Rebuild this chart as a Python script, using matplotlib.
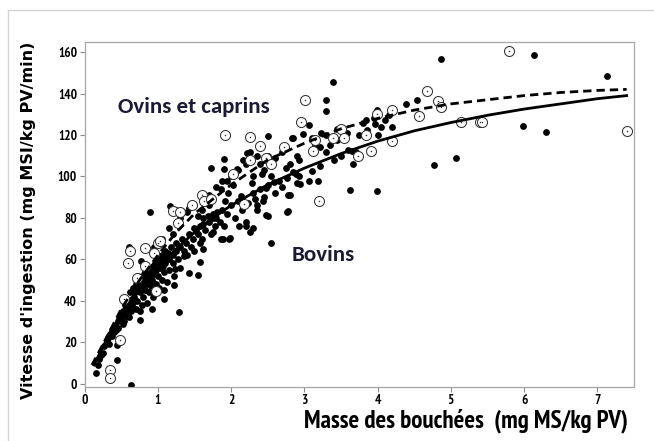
import matplotlib
matplotlib.use("Agg")
import matplotlib.pyplot as plt
from matplotlib.lines import Line2D

# --- data ---
# Bovins (filled dots)
bovins_x = [4.87, 6.13, 7.13, 3.39, 3.3, 3.3, 4.54, 4.39, 3.99, 4.16, 4.19, 5.98, 6.3, 4.77, 5.07,
            3.62, 3.99, 3.67, 3.6, 3.65, 3.7, 3.58, 3.85, 3.84, 3.96, 3.44, 3.35, 3.21, 3.07, 2.85,
            2.98, 3.1, 3.23, 3.14, 2.92, 3.1, 3.22, 2.92, 2.94, 3.07, 3.19, 2.8, 2.51, 2.83, 2.9,
            2.77, 2.77, 2.51, 2.55, 1.98, 1.89, 2.16, 2.21, 2.08, 1.73, 1.9, 1.9, 1.87, 2.26, 2.24,
            2.3, 2.42, 2.29, 2.33, 2.43, 2.48, 2.36, 2.23, 2.13, 2.03, 1.94, 2.59, 2.48, 2.76, 2.89,
            2.76, 1.86, 1.92, 1.96, 1.69, 1.81, 1.75, 1.86, 1.97, 2.11, 2.26, 2.2, 2.3, 0.89, 1.17,
            1.43, 1.62, 1.52, 1.57, 1.61, 1.57, 1.55, 1.42, 1.35, 1.23, 1.22, 1.09, 1.09, 0.92, 0.76,
            1.29, 0.44, 0.44, 0.15, 0.63, 0.61, 0.77,
            1.25, 1.3, 1.4, 1.5, 1.55, 1.65, 1.7, 1.8, 2.0, 2.1, 2.2, 2.35, 2.4, 2.5, 2.6, 2.7, 2.45,
            3.3, 3.45, 3.55, 3.75, 3.8, 3.95, 4.05, 4.1, 4.0, 3.5, 3.4, 3.3,
            0.18, 0.2, 0.22, 0.25, 0.27, 0.3, 0.32, 0.33, 0.35, 0.37, 0.4, 0.42, 0.45, 0.46, 0.48,
            0.5, 0.52, 0.53, 0.55, 0.56, 0.58, 0.6, 0.6, 0.62, 0.63, 0.65, 0.66, 0.68, 0.7, 0.7,
            0.72, 0.73, 0.75, 0.75, 0.77, 0.78, 0.8, 0.8, 0.82, 0.83, 0.85, 0.85, 0.87, 0.88, 0.9,
            0.9, 0.92, 0.93, 0.95, 0.96, 0.97, 1.0, 1.0, 1.02, 1.03, 1.05, 1.05, 1.08, 1.1, 1.1,
            1.12, 1.15, 1.15, 1.18, 1.2, 1.2, 1.22, 1.25, 1.25, 1.28, 1.3, 1.3, 1.33, 1.35, 1.38,
            1.4, 1.42, 1.45, 1.48, 1.5, 1.5, 1.55, 1.58, 1.6, 1.62, 1.65, 1.7, 1.72, 1.75, 1.78,
            1.8, 1.85, 1.88, 1.9, 1.95, 2.0, 2.05, 2.1, 2.15, 2.2, 2.3, 2.35, 2.4, 2.45, 2.5,
            2.55, 2.6, 2.65, 2.7, 2.75, 2.8, 2.85, 2.9,
            0.95, 1.05, 1.15, 1.2, 1.6, 1.7, 1.75,
            0.38, 0.43, 0.47, 0.51, 0.54, 0.57, 0.61, 0.64, 0.67, 0.69, 0.71, 0.74, 0.76,
            0.79, 0.81, 0.84, 0.86, 0.89, 0.91, 0.94, 0.98, 1.01, 1.04, 1.07, 1.11, 1.14]
bovins_y = [156.5, 158.4, 148.3, 145.6, 136.8, 131.6, 136.7, 135.1, 131.9, 129.5, 124, 124.4, 121.2, 105.6, 108.8,
            93.6, 93.2, 106, 112.8, 112.5, 112, 121, 122.3, 127, 125.5, 117.6, 115, 114, 125, 118.4,
            120.4, 118.4, 120.8, 115.2, 108, 102.4, 104.8, 100, 96.4, 98, 98, 91, 119.5, 118.4, 97,
            91, 83.3, 81, 68.1, 70.5, 69.7, 108, 111.2, 103.6, 104, 108.3, 103.5, 98, 112, 109,
            100, 101.4, 96.6, 88.9, 88, 81.3, 83.7, 87, 90.5, 96, 97.7, 97.2, 94.5, 99.3, 101,
            83, 94, 88, 92, 81, 82.6, 73, 69.8, 70, 76, 73, 76, 75, 82.6, 85.7,
            85, 77, 73.8, 68, 65, 58.6, 52.5, 53.5, 61.8, 55.4, 47.4, 45, 41, 36.2, 30.7,
            34.7, 11.5, 18.7, 5.1, -0.5, 65.8, 59,
            84, 80, 83, 86, 81, 87, 91, 95, 100, 103, 106, 110, 106, 110, 109, 112, 103,
            120, 123, 118, 120, 126, 128, 124, 127, 120, 110, 108, 112,
            9, 12, 14, 15, 18, 20, 22, 19, 24, 26, 25, 28, 30, 27, 33,
            31, 35, 29, 38, 33, 36, 40, 32, 44, 35, 38, 46, 42, 36, 48,
            40, 52, 44, 35, 47, 38, 50, 42, 45, 54, 39, 48, 52, 44, 56,
            47, 50, 42, 53, 58, 48, 52, 60, 46, 56, 62, 50, 54, 58, 64,
            49, 60, 55, 66, 58, 62, 52, 64, 68, 60, 66, 56, 70, 64, 68,
            62, 72, 66, 70, 75, 64, 72, 76, 70, 80, 74, 78, 72, 82, 76,
            80, 78, 84, 76, 82, 86, 80, 88, 84, 78, 92, 86, 94, 90, 96,
            100, 92, 98, 95, 104, 106, 102, 110,
            66, 70, 75, 72, 84, 86, 80,
            23, 26, 31, 34, 30, 37, 38, 41, 40, 44, 45, 47, 50,
            46, 53, 51, 55, 50, 53, 57, 55, 58, 60, 57, 61, 63]

# Ovins et caprins (open circles)
ovins_x = [0.35, 0.35, 0.48, 0.54, 0.59, 0.62, 0.82, 0.71, 0.82, 0.95, 1.0, 1.03, 0.97, 1.2, 1.3,
           1.28, 1.47, 1.6, 1.63, 1.73, 1.92, 2.03, 2.17, 2.26, 2.26, 2.4, 2.47, 2.54, 2.72, 2.95,
           3.01, 3.12, 3.14, 3.2, 3.39, 3.5, 3.54, 3.73, 3.84, 3.91, 3.99, 4.19, 4.2, 4.56, 4.68,
           4.82, 4.87, 5.14, 5.4, 5.43, 5.79, 7.4]
ovins_y = [6.7, 2.7, 21, 41, 58, 64, 65.5, 51, 57, 63, 68, 69, 44.5, 83.5, 83,
           77.5, 86, 91, 88, 89, 120, 101, 86.5, 119, 108, 114.5, 109, 106, 114, 126.5,
           137, 112.5, 117.7, 88, 118.5, 123, 118.5, 110, 120, 112.4, 130, 117, 132, 129, 141,
           136.5, 133.6, 126.3, 126.3, 126.3, 160.5, 122]

# fitted curves
fit_bov_x = [0.13, 0.25, 0.5, 0.75, 1, 1.25, 1.5, 1.75, 2, 2.5, 3, 3.5, 4, 4.5, 5, 5.5, 6, 6.5, 7, 7.4]
fit_bov_y = [9, 18, 33, 46, 56, 65, 73, 80, 86, 96, 104, 111, 117, 122, 126, 129.5, 132.5, 135, 137.5, 139]
fit_ov_x = [0.1, 0.25, 0.5, 0.75, 1, 1.25, 1.5, 1.75, 2, 2.25, 2.5, 3, 3.5, 4, 4.5, 5, 5.5, 6, 6.5, 7, 7.4]
fit_ov_y = [9, 19, 36, 50, 62, 73, 82, 89, 96, 102, 108, 116, 123, 128, 132, 135, 137, 139, 140.5, 141.5, 142]

x_ticks = [0, 1, 2, 3, 4, 5, 6, 7]
y_ticks = [0, 20, 40, 60, 80, 100, 120, 140, 160]

narrow = ["PT Sans Narrow", "Roboto Condensed", "Archivo Narrow", "Barlow Condensed", "DejaVu Sans"]
calibri = ["Carlito", "Lato", "DejaVu Sans"]
label_col = "#1a1a33"

fig = plt.figure(figsize=(6.54, 4.41), dpi=100)
ax = fig.add_axes([0.1294, 0.123, 0.84, 0.7824])

# faint outer frame (top and left edges)
fig.add_artist(Line2D([0.012, 1.0], [0.977, 0.977], color="#d4d4d4", lw=1))
fig.add_artist(Line2D([0.012, 0.012], [0.0, 0.977], color="#d4d4d4", lw=1))

ax.scatter(bovins_x, bovins_y, s=24, color="black", linewidths=0, zorder=2)
ax.scatter(ovins_x, ovins_y, s=52, facecolor="white", edgecolor="#333333", linewidths=0.75, zorder=3)
ax.scatter(ovins_x, ovins_y, s=1.2, color="#333333", linewidths=0, zorder=3)

ax.plot(fit_bov_x, fit_bov_y, color="black", lw=2, zorder=4)
ax.plot(fit_ov_x, fit_ov_y, color="black", lw=2, dashes=(3, 1.8), zorder=4)

ax.text(0.46, 133.3, "Ovins et caprins", fontsize=16.5, fontweight="bold", family=calibri,
        color=label_col, va="center", ha="left")
ax.text(2.83, 61.9, "Bovins", fontsize=16.5, fontweight="bold", family=calibri,
        color=label_col, va="center", ha="left")

ax.set_xlim(0, 7.5)
ax.set_ylim(-1.5, 165)
ax.set_xticks(x_ticks)
ax.set_yticks(y_ticks)
for lab in ax.get_xticklabels() + ax.get_yticklabels():
    lab.set_family(narrow)
    lab.set_fontweight("bold")
    lab.set_fontsize(9.5)
ax.tick_params(direction="out", length=3.5, width=0.8, color="#8c8c8c", pad=2)
for sp in ax.spines.values():
    sp.set_color("#a6a6a6")
    sp.set_linewidth(0.9)

fig.text(0.96, 0.03, "Masse des bouchées  (mg MS/kg PV)", ha="right", va="baseline",
         fontsize=18, fontweight="bold", family=narrow, color="black")
fig.text(0.044, 0.50, "Vitesse d'ingestion (mg MSI/kg PV/min)", ha="center", va="center",
         rotation=90, fontsize=11.5, fontweight="bold", family="DejaVu Sans", color="black")

fig.savefig("out.png", dpi=100)
